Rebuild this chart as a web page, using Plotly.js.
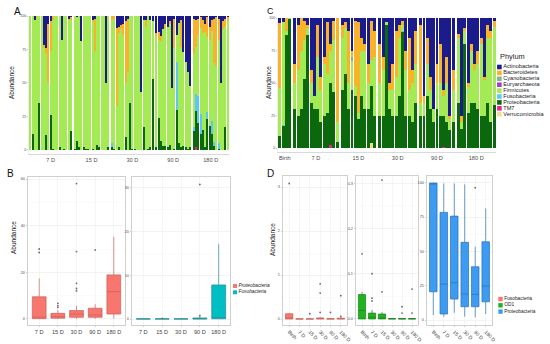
<!DOCTYPE html>
<html><head><meta charset="utf-8">
<script src="https://cdn.plot.ly/plotly-3.0.1.min.js"></script>
<style>html,body{margin:0;padding:0;background:#fff}#chart{width:550px;height:344px}</style>
</head><body><div id="chart"></div>
<script>
// ---------- Phylum legend ----------
const phyla = ["Actinobacteria","Bacteroidetes","Cyanobacteria","Euryarchaeota","Firmicutes","Fusobacteria","Proteobacteria","TM7","Verrucomicrobia"];
const phylumColors = ["#1b1b8c","#f8b32b","#7cb88c","#a43cc8","#a3ea55","#5cc8f2","#0c680c","#f0208c","#f4dd92"];

// ---------- Panel A (groups) ----------
const groupsA = ["7 D","15 D","30 D","90 D","180 D"];
const countsA = [19,16,19,16,16];
const A_act = [
 0,0,3,0,0, 0,22,24,6,4, 0,0,0,0,18, 0,0,2,1,
 0,1,0,19,0, 0,0,0,3,2, 0,0,0,0,50, 0,
 0,0,9,8,7, 6,4,2,0,0, 0,0,0,57,3, 3,0,3,4,
 13,12,15,10,6, 8,4,54,2,14, 5,3,27,34,42, 52,
 2,3,2,1,3, 6,1,8,3,2, 1,2,50,4,2, 1];
const A_bac = [
 0,0,0,1,0, 0,2,4,44,22, 3,0,0,0,0, 0,0,1,2,
 0,0,0,0,0, 0,0,0,1,24, 0,0,0,0,0, 0,
 3,2,58,5,3, 8,46,40,0,0, 0,0,0,0,0, 5,0,0,0,
 2,6,4,0,3, 0,2,0,22,0, 0,20,0,0,0, 0,
 26,20,12,8,10, 6,15,10,8,33, 36,16,0,6,6, 3];
const A_firm = [
 100,88,97,99,65, 100,76,61,50,48, 96,100,100,98,82, 99,100,97,83,
 99,92,98,81,98, 99,99,100,95,74, 96,98,100,100,50, 98,
 92,97,33,85,90, 86,40,58,65,99, 99,100,100,43,80, 92,99,95,43,
 83,58,74,87,88, 90,90,46,75,20, 90,75,70,64,57, 46,
 55,35,46,64,72, 86,56,64,67,59, 63,77,50,90,75, 96];
const A_fus = [
 0,0,0,0,0, 0,0,0,0,0, 0,0,0,0,0, 0,0,0,0,
 0,0,0,0,0, 0,0,0,0,0, 0,0,0,0,0, 0,
 3,0,0,0,0, 0,0,0,0,0, 0,0,0,0,0, 0,0,0,0,
 0,0,0,0,0, 0,0,0,0,36, 0,0,0,0,0, 0,
 3,13,20,15,0, 0,5,0,10,3, 0,4,0,0,0, 0];
const A_pro = [
 0,12,0,0,35, 0,0,11,0,26, 1,0,0,2,0, 1,0,0,14,
 1,7,2,0,2, 1,1,0,1,0, 4,2,0,0,0, 2,
 2,1,0,2,0, 0,10,0,35,1, 1,0,0,0,17, 0,1,2,53,
 2,24,7,3,3, 2,4,0,1,30, 5,2,3,2,1, 2,
 14,27,20,12,15, 2,23,18,12,3, 0,1,0,0,17, 0];
const A_tm7 = [
 0,0,0,0,0, 0,0,0,0,0, 0,0,0,0,0, 0,0,0,0,
 0,0,0,0,0, 0,0,0,0,0, 0,0,0,0,0, 0,
 0,0,0,0,0, 0,0,0,0,0, 0,0,0,0,0, 0,0,0,0,
 0,0,0,0,0, 0,0,0,0,0, 0,0,0,0,0, 0,
 0,2,0,0,0, 0,0,0,0,0, 0,0,0,0,0, 0];

// ---------- Panel C ----------
const groupsC = ["Birth","7 D","15 D","30 D","90 D","180 D"];
const countsC = [4,14,11,12,11,12];
const C_act = [
 4,3,0,0,
 35,5,0,2,5, 40,60,5,45,30, 3,20,2,0,
 5,3,10,25,2, 3,15,20,35,2, 10,
 20,30,3,50,35, 10,5,2,25,15, 40,10,
 5,60,15,45,70, 35,20,55,30,75, 40,
 12,75,8,50,20, 35,25,15,45,5, 10,2];
const C_bac = [
 50,0,10,0,
 15,35,25,15,3, 10,0,25,10,5, 40,5,15,80,
 10,5,40,5,50, 70,10,5,15,30, 20,
 30,10,0,5,20, 35,10,3,15,40, 10,25,
 60,5,20,10,0, 15,30,5,20,3, 15,
 3,5,2,3,5, 5,10,5,3,10, 5,5];
const C_cya = [
 0,0,0,0,
 0,0,0,0,0, 0,0,0,0,0, 0,0,0,0,
 0,0,0,3,0, 0,0,0,0,0, 0,
 0,0,0,0,0, 0,0,0,0,0, 0,0,
 0,0,0,0,0, 0,0,0,0,0, 0,
 0,0,0,0,0, 0,0,0,0,0, 0,0];
const C_firm = [
 37,79,3,1,
 20,35,45,30,5, 15,10,40,25,40, 30,25,40,15,
 40,35,20,22,8, 5,35,45,20,20, 45,
 25,35,2,15,20, 30,45,5,35,20, 30,30,
 10,10,25,15,10, 20,25,15,30,8, 25,
 50,5,10,20,40, 25,35,55,27,50, 65,60];
const C_fus = [
 0,1,0,0,
 0,0,0,0,0, 0,0,0,0,0, 0,0,0,0,
 0,0,0,0,0, 0,0,0,0,0, 0,
 0,0,0,0,0, 0,0,1,0,0, 0,0,
 0,0,0,0,0, 0,0,0,0,0, 0,
 0,0,0,0,0, 0,0,0,0,0, 0,0];
const C_pro = [
 9,17,87,99,
 30,25,30,53,87, 35,30,30,20,25, 27,48,43,5,
 45,57,30,45,40, 22,40,30,30,44, 25,
 25,25,95,30,25, 25,40,89,25,25, 20,35,
 25,25,40,30,20, 30,25,24,20,14, 20,
 35,15,80,27,35, 35,30,25,25,35, 20,33];
const C_tm7 = [
 0,0,0,0,
 0,0,0,0,0, 0,0,0,0,0, 0,2,0,0,
 0,0,0,0,0, 0,0,0,0,0, 0,
 0,0,0,0,0, 0,0,0,0,0, 0,0,
 0,0,0,0,0, 0,0,1,0,0, 0,
 0,0,0,0,0, 0,0,0,0,0, 0,0];
const C_ver = [
 0,0,0,0,
 0,0,0,0,0, 0,0,0,0,0, 0,0,0,0,
 0,0,0,0,0, 0,0,0,0,4, 0,
 0,0,0,0,0, 0,0,0,0,0, 0,0,
 0,0,0,0,0, 0,0,0,0,0, 0,
 0,0,0,0,0, 0,0,0,0,0, 0,0];

// ---------- Panel B (box plots) ----------
const groupsB = ["7 D","15 D","30 D","90 D","180 D"];
const B_pro_q1 = [0.1,0.3,0.7,0.7,2.1];
const B_pro_med = [0.8,1.0,2.1,1.7,11.7];
const B_pro_q3 = [9.5,2.4,3.6,4.6,18.9];
const B_pro_lo = [0,0,0,0,0.2];
const B_pro_hi = [17.4,3.9,5.6,6.3,35.3];
const B_pro_outX = ["7 D","7 D","15 D","15 D","15 D","30 D","30 D","30 D","30 D","30 D","90 D"];
const B_pro_outY = [30,28.5,6.7,5.7,5.0,58.1,28.9,15.3,13.1,12.1,29.6];
const B_fus_q1 = [0,0,0,0,0.05];
const B_fus_med = [0,0,0,0.05,0.3];
const B_fus_q3 = [0.05,0.05,0.05,0.25,7.8];
const B_fus_lo = [0,0,0,0,0];
const B_fus_hi = [0.1,0.1,0.1,0.5,17.2];
const B_fus_outX = ["15 D","90 D","90 D"];
const B_fus_outY = [0.15,30.8,0.75];
const legendB = ["Proteobacteria","Fusobacteria"];

// ---------- Panel D (box plots) ----------
const groupsD = ["Birth","7 D","15 D","30 D","90 D","180 D"];
const D_fus_q1 = [0,0,0,0,0,0];
const D_fus_med = [0.01,0,0,0.01,0,0.005];
const D_fus_q3 = [0.12,0.005,0.005,0.025,0.01,0.02];
const D_fus_lo = [0,0,0,0,0,0];
const D_fus_hi = [0.14,0.01,0.01,0.05,0.02,0.04];
const D_fus_outX = ["Birth","15 D","30 D","30 D","30 D","90 D","180 D","180 D"];
const D_fus_outY = [3.08,0.12,0.15,0.59,0.8,0.15,0.06,0.53];
const D_od1_q1 = [0,0,0,0,0,0];
const D_od1_med = [0.019,0.004,0.002,0,0,0];
const D_od1_q3 = [0.054,0.013,0.011,0.001,0.001,0.001];
const D_od1_lo = [0,0,0,0,0,0];
const D_od1_hi = [0.06,0.02,0.015,0.002,0.002,0.002];
const D_od1_outX = ["Birth","7 D","7 D","7 D","15 D","15 D","90 D","90 D","180 D","180 D"];
const D_od1_outY = [0.144,0.1,0.046,0.04,0.307,0.06,0.027,0.013,0.066,0.013];
const D_pro_q1 = [20.6,4.4,15.3,9.7,9.7,13.3];
const D_pro_med = [99.3,26.2,27.2,19,18.7,24.8];
const D_pro_q3 = [99.8,78.4,75.7,56.6,38.8,57];
const D_pro_lo = [3.6,2.4,5.3,2.4,2,4.4];
const D_pro_hi = [100,99.5,99.5,98.8,53.4,81.3];
const D_pro_outX = ["90 D"];
const D_pro_outY = [96.4];
const legendD = ["Fusobacteria","OD1","Proteobacteria"];

// ---------- helpers ----------
const W = 550, H = 344;
const dx = (a,b) => [a/W, b/W];
const dy = (top,bot) => [1-bot/H, 1-top/H];
function positions(counts, gap){
  const xs=[], centers=[]; let off=0;
  counts.forEach(c=>{ for(let j=0;j<c;j++) xs.push(off+j); centers.push(off+(c-1)/2); off+=c+gap; });
  return {xs, centers, end: off-gap-1};
}
const posA = positions(countsA, 0.6);
const posC = positions(countsC, 0.6);
const colorOf = name => phylumColors[phyla.indexOf(name)];

const traces = [];
// stacking order bottom -> top
const seriesA = [["TM7",A_tm7],["Proteobacteria",A_pro],["Fusobacteria",A_fus],["Firmicutes",A_firm],["Bacteroidetes",A_bac],["Actinobacteria",A_act]];
seriesA.forEach(([n,v])=>traces.push({type:'bar',x:posA.xs,y:v,name:n,xaxis:'x',yaxis:'y',marker:{color:colorOf(n),line:{width:0}},hoverinfo:'skip'}));
const seriesC = [["Verrucomicrobia",C_ver],["TM7",C_tm7],["Proteobacteria",C_pro],["Fusobacteria",C_fus],["Firmicutes",C_firm],["Cyanobacteria",C_cya],["Bacteroidetes",C_bac],["Actinobacteria",C_act]];
seriesC.forEach(([n,v])=>traces.push({type:'bar',x:posC.xs,y:v,name:n,xaxis:'x2',yaxis:'y2',marker:{color:colorOf(n),line:{width:0}},hoverinfo:'skip'}));

function boxTrace(ax, xs, q1, med, q3, lo, hi, fill, line, w){
  return {type:'box', xaxis:'x'+ax, yaxis:'y'+ax, x:xs, q1:q1, median:med, q3:q3, lowerfence:lo, upperfence:hi,
    fillcolor:fill, line:{color:line,width:0.7}, whiskerwidth:0, width:w, boxpoints:false, hoverinfo:'skip'};
}
function outTrace(ax, xs, ys){
  return {type:'scatter', mode:'markers', xaxis:'x'+ax, yaxis:'y'+ax, x:xs, y:ys, marker:{size:1.8,color:'#6a6a6a'}, hoverinfo:'skip'};
}
traces.push(boxTrace(3, groupsB, B_pro_q1, B_pro_med, B_pro_q3, B_pro_lo, B_pro_hi, '#F8766D', '#c8625a', 0.74));
traces.push(outTrace(3, B_pro_outX, B_pro_outY));
traces.push(boxTrace(4, groupsB, B_fus_q1, B_fus_med, B_fus_q3, B_fus_lo, B_fus_hi, '#00BFC4', '#2a8d90', 0.74));
traces.push(outTrace(4, B_fus_outX, B_fus_outY));
traces.push(boxTrace(5, groupsD, D_fus_q1, D_fus_med, D_fus_q3, D_fus_lo, D_fus_hi, '#F8766D', '#c8625a', 0.72));
traces.push(outTrace(5, D_fus_outX, D_fus_outY));
traces.push(boxTrace(6, groupsD, D_od1_q1, D_od1_med, D_od1_q3, D_od1_lo, D_od1_hi, '#1fb41f', '#1a7f1a', 0.72));
traces.push(outTrace(6, D_od1_outX, D_od1_outY));
traces.push(boxTrace(7, groupsD, D_pro_q1, D_pro_med, D_pro_q3, D_pro_lo, D_pro_hi, '#3d9cf2', '#2b6fb3', 0.72));
traces.push(outTrace(7, D_pro_outX, D_pro_outY));

// manual legends (phylum, B, D)
function legendTrace(ax, names, colors, size, fsize, style){
  return {type:'scatter', mode:'markers+text', xaxis:'x'+ax, yaxis:'y'+ax,
    x:names.map(()=>0), y:names.map((_,i)=>i), text:names, textposition:'middle right',
    textfont:{size:fsize, color:'#222', style:style||'normal'},
    marker:{symbol:'square', size:size, color:colors, line:{width:0}}, hoverinfo:'skip', cliponaxis:false};
}
traces.push(legendTrace(8, phyla, phylumColors, 4.6, 5.6));
traces.push(legendTrace(9, legendB, ['#F8766D','#00BFC4'], 4, 4.8, 'italic'));
traces.push(legendTrace(10, legendD, ['#F8766D','#1fb41f','#3d9cf2'], 4.4, 4.8));

const tickCol = '#4d4d4d';
const hidden = {visible:false, fixedrange:true};
function barX(dom, pos, labels){
  return {domain:dom, range:[-0.6, pos.end+0.6], tickmode:'array', tickvals:pos.centers, ticktext:labels,
    tickfont:{size:5.6,color:tickCol}, ticks:'', showline:true, linecolor:'#d0d0d0', linewidth:0.8,
    showgrid:false, zeroline:false, fixedrange:true};
}
function barY(dom, rng, anchor){
  return {domain:dom, range:rng, tickmode:'array', tickvals:[0,25,50,75,100], tickfont:{size:3.6,color:tickCol},
    ticks:'outside', ticklen:1.5, tickcolor:'#999', tickwidth:0.5, showline:true, linecolor:'#e2e2e2', linewidth:0.6,
    showgrid:false, zeroline:false, fixedrange:true, anchor:anchor};
}
function boxX(dom, cats, anchor, angle){
  return {domain:dom, type:'category', categoryorder:'array', categoryarray:cats, range:[-0.6, cats.length-0.4],
    tickfont:{size:angle?5:5.6,color:'#444'}, tickangle:angle||0, ticks:'outside', ticklen:1.5, tickcolor:'#999', tickwidth:0.5,
    showline:true, mirror:true, linecolor:'#c4c4c4', linewidth:0.8, showgrid:true, gridcolor:'#eeeeee', gridwidth:0.6,
    zeroline:false, fixedrange:true, anchor:anchor};
}
function boxY(dom, rng, vals, minor, anchor){
  return {domain:dom, range:rng, tickmode:'array', tickvals:vals, tickfont:{size:3.8,color:tickCol},
    ticks:'outside', ticklen:1.5, tickcolor:'#999', tickwidth:0.5,
    showline:true, mirror:true, linecolor:'#c4c4c4', linewidth:0.8, showgrid:true, gridcolor:'#ebebeb', gridwidth:0.6,
    minor:{tickvals:minor, showgrid:true, gridcolor:'#f5f5f5', gridwidth:0.4, ticks:''},
    zeroline:false, fixedrange:true, anchor:anchor};
}

function ann(text, xpx, ypx, size, angle, extra){
  return Object.assign({text:text, xref:'paper', yref:'paper', x:xpx/W, y:1-ypx/H, showarrow:false,
    font:{size:size, color:'#111'}, textangle:angle||0, xanchor:'center', yanchor:'middle'}, extra||{});
}

const layout = {
  width:W, height:H, margin:{l:0,r:0,t:0,b:0}, paper_bgcolor:'#fff', plot_bgcolor:'rgba(0,0,0,0)',
  barmode:'stack', bargap:0.1, showlegend:false, hovermode:false,
  font:{family:'Liberation Sans, Arial, sans-serif', color:tickCol},
  xaxis: Object.assign(barX(dx(29,229), posA, groupsA), {anchor:'y'}),
  yaxis: barY(dy(16,154), [-3,100], 'x'),
  xaxis2: Object.assign(barX(dx(278,496), posC, groupsC), {anchor:'y2'}),
  yaxis2: barY(dy(18,152), [-3.08,100], 'x2'),
  xaxis3: boxX(dx(28,125), groupsB, 'y3'),
  yaxis3: boxY(dy(177,325), [-2.6,60.9], [0,20,40,60], [10,30,50], 'x3'),
  xaxis4: boxX(dx(132,230), groupsB, 'y4'),
  yaxis4: boxY(dy(177,325), [-1.37,32.5], [0,10,20,30], [5,15,25], 'x4'),
  xaxis5: boxX(dx(283,347), groupsD, 'y5', 45),
  yaxis5: boxY(dy(176,325), [-0.136,3.25], [0,1,2,3], [0.5,1.5,2.5], 'x5'),
  xaxis6: boxX(dx(356,418), groupsD, 'y6', 45),
  yaxis6: Object.assign(boxY(dy(176,325), [-0.0133,0.316], [0,0.1,0.2,0.3], [0.05,0.15,0.25], 'x6'), {ticktext:['0.0','0.1','0.2','0.3']}),
  xaxis7: boxX(dx(427,492), groupsD, 'y7', 45),
  yaxis7: boxY(dy(176,325), [-3.6,104.9], [0,25,50,75,100], [12.5,37.5,62.5,87.5], 'x7'),
  xaxis8: Object.assign({domain:dx(497,547), range:[-0.5,10], anchor:'y8'}, hidden),
  yaxis8: Object.assign({domain:dy(64.05,117.15), range:[8.5,-0.5], anchor:'x8'}, hidden),
  xaxis9: Object.assign({domain:dx(233,275), range:[-0.5,10], anchor:'y9'}, hidden),
  yaxis9: Object.assign({domain:dy(282.85,295.45), range:[1.5,-0.5], anchor:'x9'}, hidden),
  xaxis10: Object.assign({domain:dx(497,547), range:[-0.75,10], anchor:'y10'}, hidden),
  yaxis10: Object.assign({domain:dy(295.85,314.75), range:[2.5,-0.5], anchor:'x10'}, hidden),
  annotations: [
    ann('A', 17, 11, 10),
    ann('B', 10, 173, 10),
    ann('C', 270, 11, 9),
    ann('D', 270, 173, 10),
    ann('Abundance', 11, 83, 6.5, -90, {font:{size:6.5,color:'#222'}}),
    ann('Abundance', 268, 83, 6.5, -90, {font:{size:6.5,color:'#222'}}),
    ann('Abundance', 13, 238, 6.5, -90, {font:{size:6.5,color:'#222'}}),
    ann('Abundance', 272, 240, 6.5, -90, {font:{size:6.5,color:'#222'}}),
    ann('Phylum', 497.5, 57, 7.4, 0, {xanchor:'left', font:{size:7.4,color:'#222'}})
  ]
};

Plotly.newPlot('chart', traces, layout, {staticPlot:true, displayModeBar:false});
</script>
</body></html>
